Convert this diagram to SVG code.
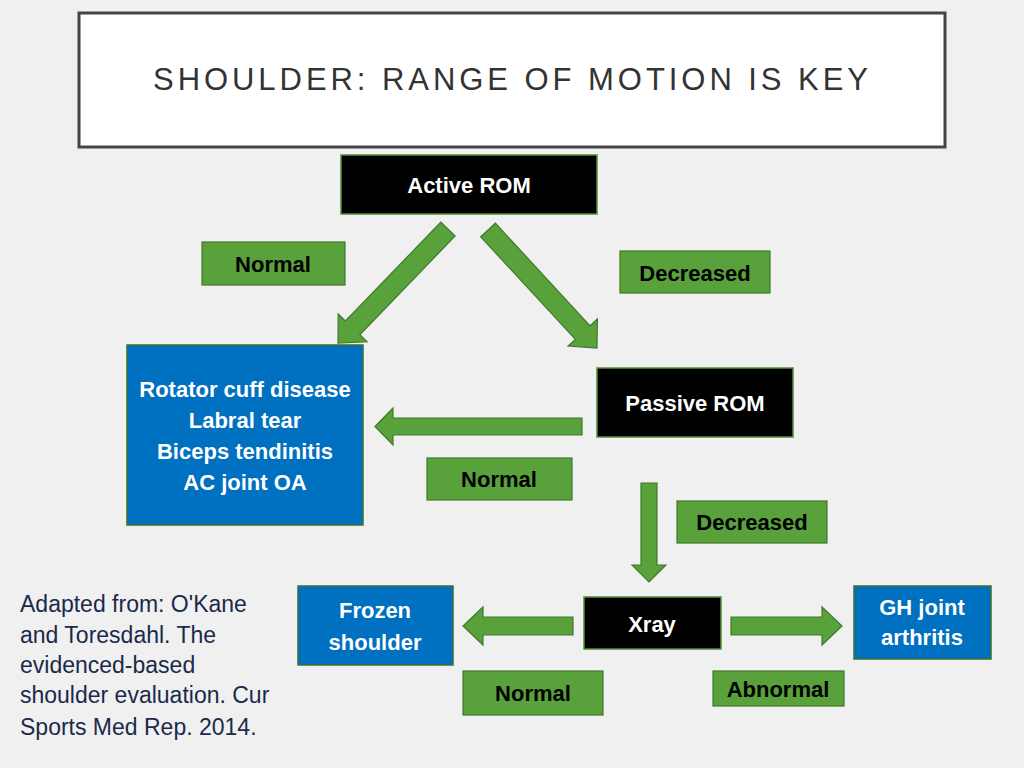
<svg xmlns="http://www.w3.org/2000/svg" width="1024" height="768" viewBox="0 0 1024 768">
<style>
.lbl{fill:#58a13b;stroke:#3f7a2b;stroke-width:1.2}
.blk{fill:#000;stroke:#4f8f35;stroke-width:1.5}
.blu{fill:#0070c0;stroke:#3c6f2e;stroke-width:1.5}
.arr{fill:#58a13b;stroke:#3f7a2b;stroke-width:1.2;stroke-linejoin:miter}
.t{font-family:"Liberation Sans",Arial,sans-serif;font-weight:bold;font-size:22px;text-anchor:middle}
.w{fill:#fff}
.k{fill:#000}
.fn{font-family:"Liberation Sans",Arial,sans-serif;font-size:23px;fill:#1a2a4a}
</style>
<rect x="0" y="0" width="1024" height="768" fill="#f0f0f0"/>
<g id="title">
<rect x="79" y="13" width="866" height="134" fill="#fff" stroke="#444" stroke-width="3"/>
<text x="153" y="90" font-family="'Liberation Sans',Arial,sans-serif" font-size="31" fill="#333" textLength="715" lengthAdjust="spacing">SHOULDER: RANGE OF MOTION IS KEY</text>
</g>
<g id="connectors">
<polygon class="arr" points="455.2,235.9 359.8,334.8 367.0,341.8 338,343 338.2,314.0 345.4,321.0 440.8,222.1"/>
<polygon class="arr" points="480.7,236.8 575.4,339.4 568.1,346.1 597,348 597.4,319.0 590.1,325.8 495.4,223.2"/>
<polygon class="arr" points="582,418 393,418 393,408 375,426.5 393,445 393,435 582,435"/>
<polygon class="arr" points="641,483 657,483 657,565 666,565 649,582 632,565 641,565"/>
<polygon class="arr" points="573,617 483,617 483,607 463,626 483,645 483,635 573,635"/>
<polygon class="arr" points="731,617 822,617 822,607 842,626 822,645 822,635 731,635"/>
</g>
<g id="active-rom">
<rect class="blk" x="341" y="155" width="256" height="59"/>
<text class="t w" x="469" y="193">Active ROM</text>
</g>
<g id="label-normal-1">
<rect class="lbl" x="202" y="242" width="143" height="43"/>
<text class="t k" x="273" y="272">Normal</text>
</g>
<g id="label-decreased-1">
<rect class="lbl" x="620" y="251" width="150" height="42"/>
<text class="t k" x="695" y="281">Decreased</text>
</g>
<g id="rotator-box">
<rect class="blu" x="127" y="345" width="236" height="180"/>
<text class="t w" x="245" y="397">Rotator cuff disease</text>
<text class="t w" x="245" y="428">Labral tear</text>
<text class="t w" x="245" y="459">Biceps tendinitis</text>
<text class="t w" x="245" y="490">AC joint OA</text>
</g>
<g id="passive-rom">
<rect class="blk" x="597" y="368" width="196" height="69"/>
<text class="t w" x="695" y="411">Passive ROM</text>
</g>
<g id="label-normal-2">
<rect class="lbl" x="427" y="458" width="145" height="42"/>
<text class="t k" x="499" y="487">Normal</text>
</g>
<g id="label-decreased-2">
<rect class="lbl" x="677" y="501" width="150" height="42"/>
<text class="t k" x="752" y="530">Decreased</text>
</g>
<g id="frozen-shoulder">
<rect class="blu" x="298" y="586" width="155" height="79"/>
<text class="t w" x="375" y="618">Frozen</text>
<text class="t w" x="375" y="650">shoulder</text>
</g>
<g id="xray">
<rect class="blk" x="584" y="597" width="137" height="52"/>
<text class="t w" x="652" y="632">Xray</text>
</g>
<g id="gh-joint">
<rect class="blu" x="854" y="586" width="137" height="73"/>
<text class="t w" x="922" y="615">GH joint</text>
<text class="t w" x="922" y="645">arthritis</text>
</g>
<g id="label-normal-3">
<rect class="lbl" x="463" y="671" width="140" height="44"/>
<text class="t k" x="533" y="701">Normal</text>
</g>
<g id="label-abnormal">
<rect class="lbl" x="713" y="671" width="131" height="35"/>
<text class="t k" x="778" y="697">Abnormal</text>
</g>
<g id="footnote">
<text class="fn" x="20" y="612">Adapted from: O'Kane</text>
<text class="fn" x="20" y="643">and Toresdahl. The</text>
<text class="fn" x="20" y="673">evidenced-based</text>
<text class="fn" x="20" y="703">shoulder evaluation. Cur</text>
<text class="fn" x="20" y="735">Sports Med Rep. 2014.</text>
</g>
</svg>
